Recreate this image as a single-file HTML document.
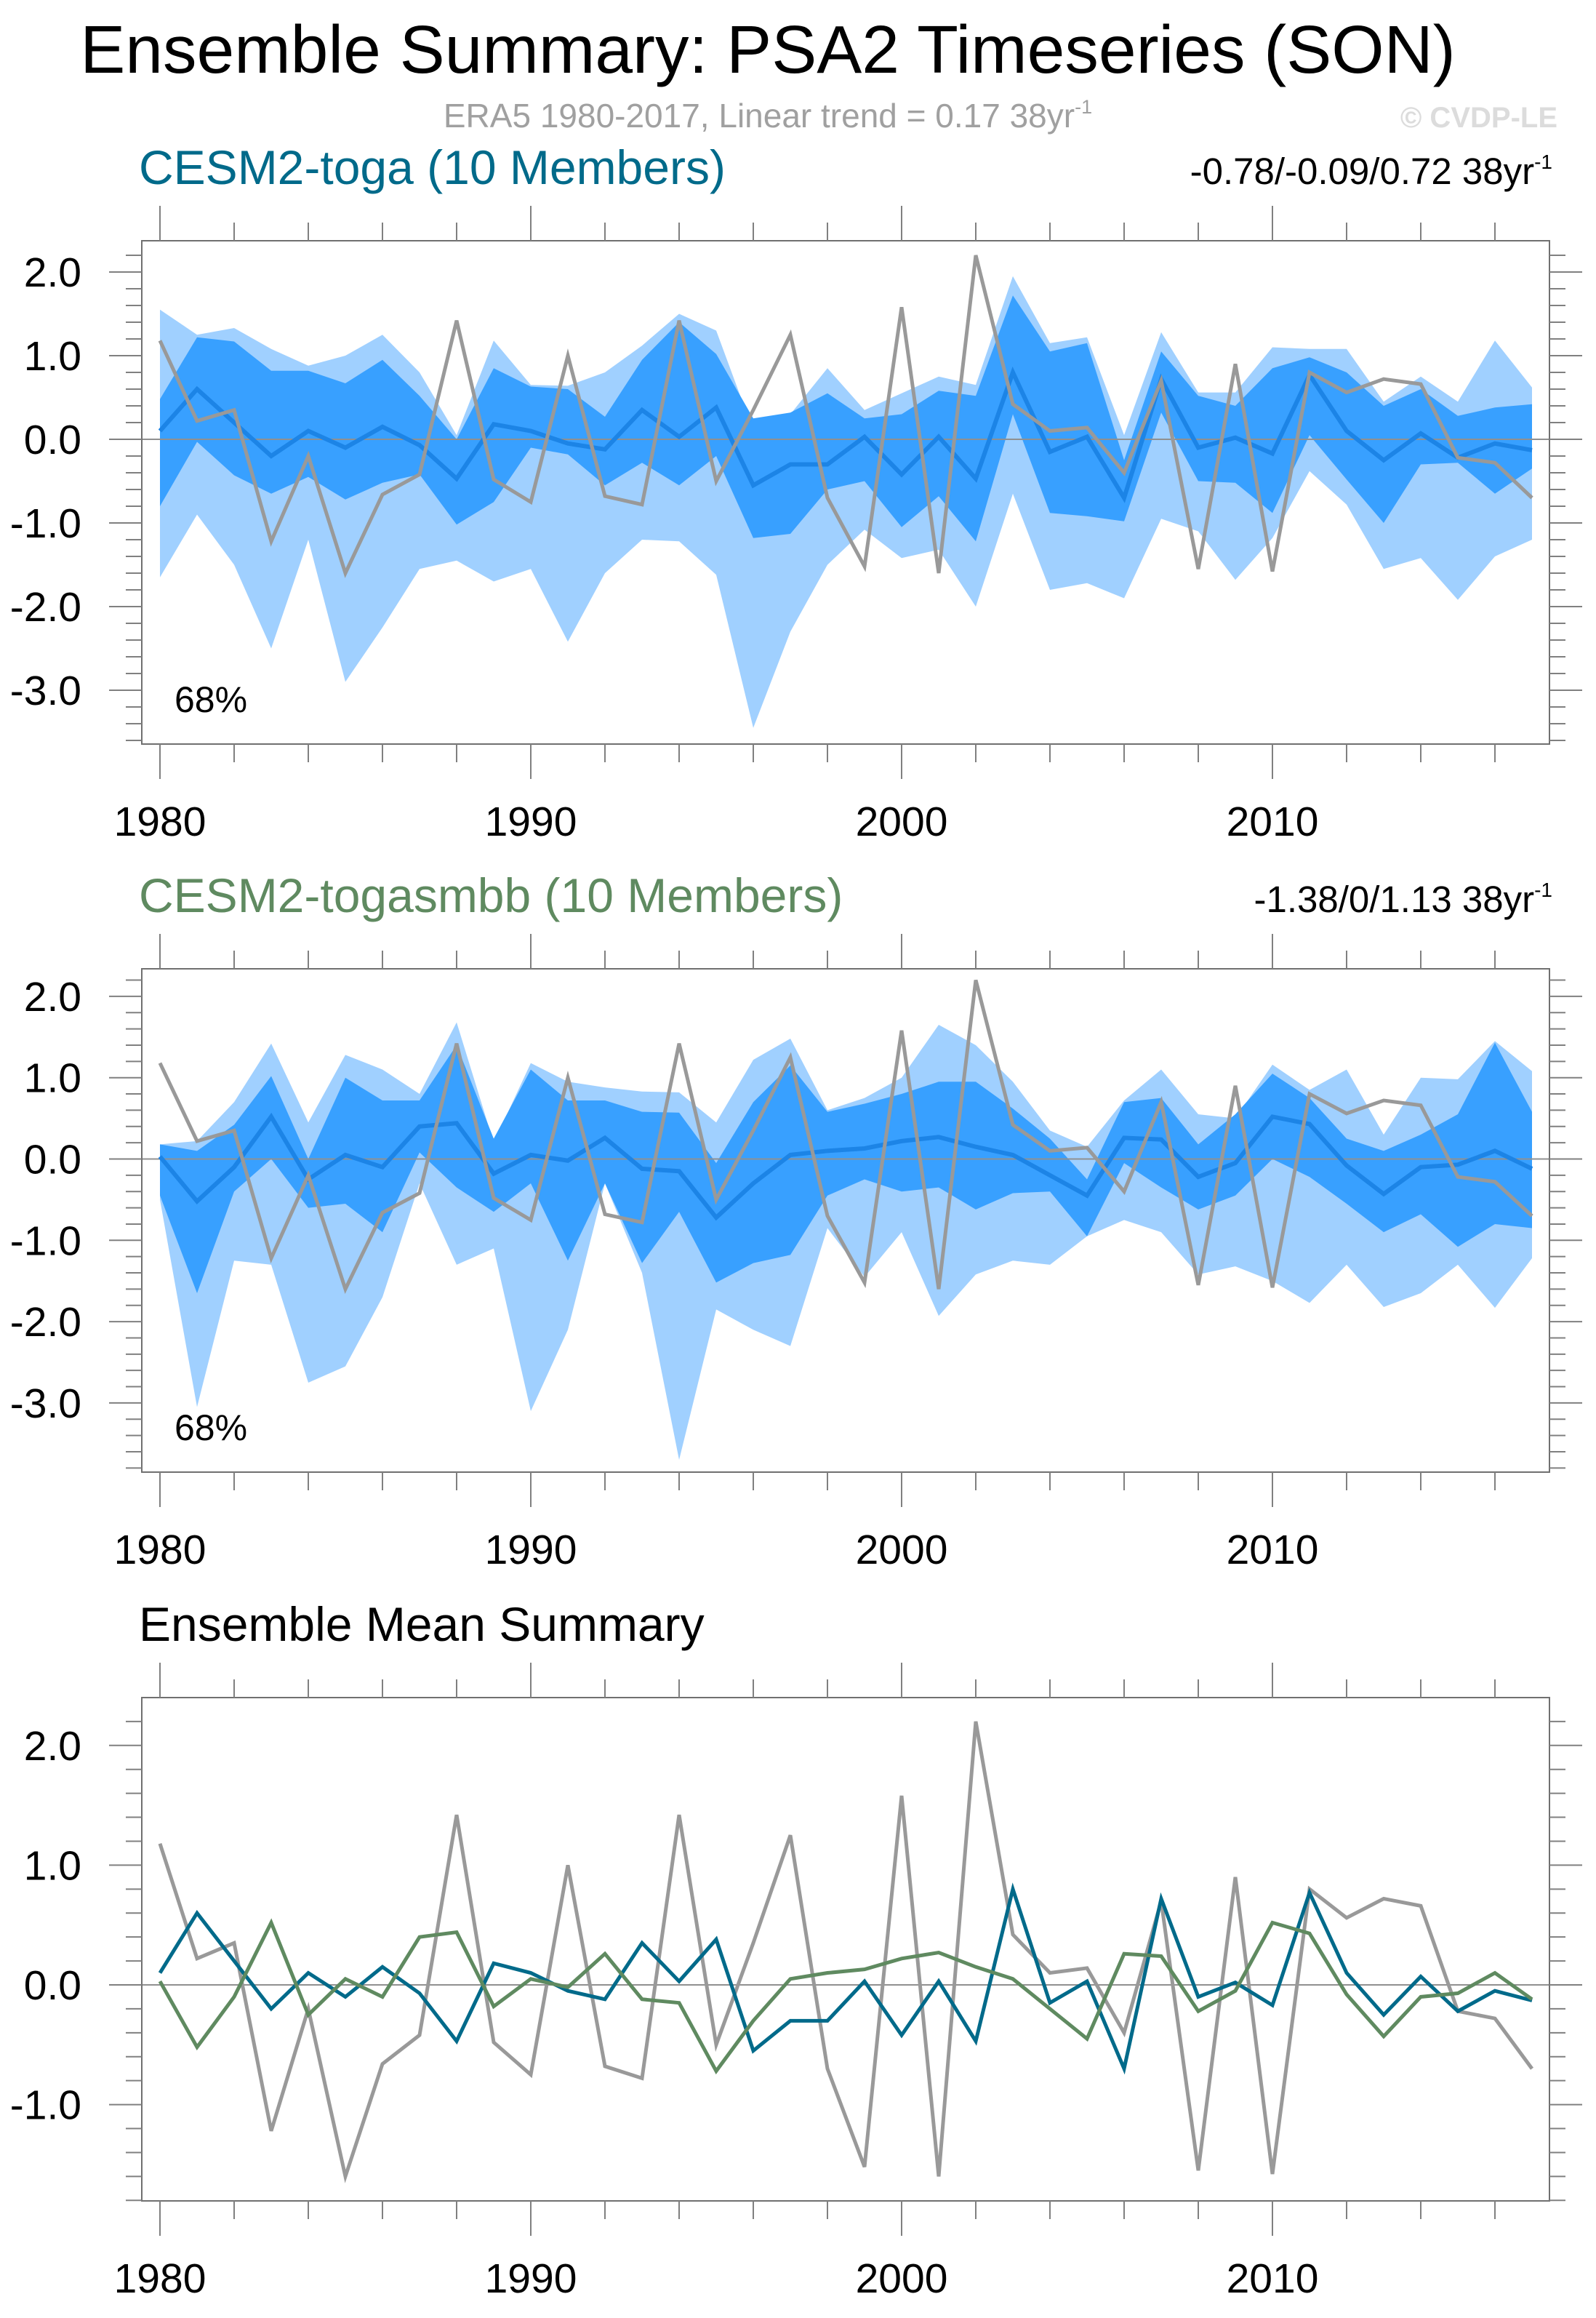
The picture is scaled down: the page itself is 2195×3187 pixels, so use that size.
<!DOCTYPE html>
<html><head><meta charset="utf-8"><style>
html,body{margin:0;padding:0;background:#fff}
svg{display:block}
text{font-family:"Liberation Sans",sans-serif}
</style></head><body>
<svg id="fig" width="2195" height="3187" viewBox="0 0 2195 3187" xmlns="http://www.w3.org/2000/svg">
<text x="1056" y="100" font-size="93" text-anchor="middle" fill="#000">Ensemble Summary: PSA2 Timeseries (SON)</text>
<text x="1056" y="175" font-size="46" text-anchor="middle" fill="#a0a0a0">ERA5 1980-2017, Linear trend = 0.17 38yr<tspan font-size="27" dy="-19">-1</tspan></text>
<text x="2142" y="175" font-size="40" font-weight="bold" text-anchor="end" fill="#dcdcdc">© CVDP-LE</text>
<g id="p1"></g>
<g id="p2"></g>
<g id="p3"></g>
</svg>
<script>
const years = [];
for (let y = 1980; y <= 2017; y++) years.push(y);
const era5 = [1.18,0.22,0.35,-1.22,-0.2,-1.6,-0.66,-0.42,1.42,-0.48,-0.75,1.0,-0.68,-0.78,1.42,-0.5,0.35,1.25,-0.7,-1.52,1.58,-1.6,2.2,0.42,0.1,0.14,-0.4,0.7,-1.55,0.9,-1.58,0.8,0.56,0.72,0.66,-0.22,-0.28,-0.7];
const togaMean = [0.1,0.6,0.2,-0.2,0.1,-0.1,0.15,-0.07,-0.47,0.18,0.1,-0.05,-0.12,0.35,0.03,0.38,-0.55,-0.3,-0.3,0.03,-0.42,0.03,-0.47,0.8,-0.15,0.03,-0.7,0.72,-0.1,0.02,-0.17,0.77,0.1,-0.25,0.07,-0.22,-0.05,-0.13];
const togaMax = [1.55,1.25,1.33,1.08,0.88,1.0,1.25,0.8,0.05,1.18,0.65,0.64,0.8,1.12,1.5,1.3,0.1,0.3,0.85,0.35,0.55,0.75,0.65,1.95,1.15,1.22,0.05,1.28,0.56,0.56,1.1,1.08,1.08,0.45,0.75,0.45,1.18,0.62];
const togaMin = [-1.65,-0.9,-1.5,-2.5,-1.2,-2.9,-2.25,-1.55,-1.45,-1.7,-1.55,-2.42,-1.6,-1.2,-1.22,-1.62,-3.45,-2.3,-1.5,-1.08,-1.42,-1.32,-2.0,-0.65,-1.8,-1.72,-1.9,-0.95,-1.1,-1.68,-1.18,-0.38,-0.78,-1.55,-1.42,-1.92,-1.4,-1.2];
const toga84 = [0.48,1.22,1.17,0.82,0.82,0.67,0.95,0.52,0.0,0.85,0.63,0.6,0.27,0.95,1.4,1.02,0.25,0.32,0.55,0.25,0.3,0.58,0.52,1.72,1.05,1.15,-0.25,1.05,0.52,0.4,0.85,0.98,0.8,0.4,0.6,0.28,0.38,0.42];
const toga16 = [-0.8,-0.03,-0.43,-0.65,-0.45,-0.72,-0.52,-0.42,-1.02,-0.75,-0.1,-0.18,-0.55,-0.28,-0.55,-0.2,-1.18,-1.13,-0.6,-0.5,-1.05,-0.68,-1.22,0.3,-0.88,-0.92,-0.98,0.32,-0.5,-0.52,-0.88,0.05,-0.48,-1.0,-0.3,-0.28,-0.65,-0.35];
const smbbMean = [0.03,-0.52,-0.1,0.52,-0.25,0.05,-0.1,0.4,0.44,-0.18,0.05,-0.02,0.26,-0.12,-0.15,-0.72,-0.3,0.05,0.1,0.13,0.22,0.27,0.15,0.05,-0.2,-0.45,0.26,0.24,-0.22,-0.05,0.52,0.43,-0.08,-0.43,-0.1,-0.07,0.1,-0.12];
const smbbMax = [0.18,0.22,0.7,1.42,0.45,1.28,1.1,0.8,1.68,0.2,1.18,0.95,0.88,0.83,0.82,0.45,1.22,1.48,0.6,0.75,1.0,1.65,1.4,0.95,0.35,0.15,0.72,1.1,0.55,0.5,1.16,0.85,1.1,0.3,1.0,0.98,1.45,1.08];
const smbbMin = [-0.5,-3.05,-1.25,-1.3,-2.75,-2.55,-1.7,-0.3,-1.3,-1.1,-3.1,-2.1,-0.3,-1.4,-3.7,-1.85,-2.1,-2.3,-0.85,-1.45,-0.9,-1.93,-1.42,-1.25,-1.3,-0.95,-0.75,-0.9,-1.42,-1.32,-1.5,-1.77,-1.3,-1.82,-1.65,-1.3,-1.83,-1.22];
const smbb84 = [0.18,0.1,0.42,1.02,0.0,1.0,0.72,0.72,1.4,0.25,1.1,0.72,0.72,0.58,0.57,-0.05,0.7,1.15,0.58,0.68,0.8,0.95,0.95,0.62,0.25,-0.25,0.7,0.75,0.18,0.55,1.05,0.75,0.25,0.1,0.3,0.55,1.43,0.58];
const smbb16 = [-0.45,-1.65,-0.4,0.0,-0.6,-0.55,-0.9,0.08,-0.35,-0.65,-0.3,-1.25,-0.3,-1.28,-0.65,-1.52,-1.28,-1.18,-0.45,-0.25,-0.4,-0.35,-0.62,-0.42,-0.4,-0.95,-0.05,-0.35,-0.62,-0.45,0.0,-0.22,-0.55,-0.9,-0.68,-1.08,-0.8,-0.85];
const yTicks1 = [2.0,1.0,0.0,-1.0,-2.0,-3.0];
const yTicks3 = [2.0,1.0,0.0,-1.0];
const xTicks = [1980,1990,2000,2010];

const NS = 'http://www.w3.org/2000/svg';
const L = 195, R = 2131, X0 = 220, XSTEP = 51.0;
function xs(year){ return X0 + (year - 1980) * XSTEP; }
function mk(tag, attrs, parent){
  const e = document.createElementNS(NS, tag);
  for (const k in attrs) e.setAttribute(k, attrs[k]);
  parent.appendChild(e); return e;
}
function drawPanel(g, cfg){
  const T = cfg.top, B = cfg.top + 692;
  const ys = v => cfg.zeroY - v * cfg.unit;
  function band(hi, lo, color, name){
    let d = '';
    hi.forEach((v,i)=>{ d += (i?'L':'M') + xs(years[i]) + ',' + ys(v); });
    for (let i = lo.length-1; i >= 0; i--) d += 'L' + xs(years[i]) + ',' + ys(lo[i]);
    const p = mk('path', {d: d + 'Z', fill: color}, g);
    
    
  }
  if (cfg.bands) {
    band(cfg.bands[0], cfg.bands[1], '#a0d0ff', 'min-max-range-band');
    band(cfg.bands[2], cfg.bands[3], '#38a0ff', 'percentile-68-band');
  }
  const z = mk('line', {x1:L, x2:R, y1:ys(0), y2:ys(0), stroke:'#909090', 'stroke-width':2}, g);
  
  
  cfg.lines.forEach(s => {
    const pts = s.vals.map((v,i)=> xs(years[i]) + ',' + ys(v)).join(' ');
    const pl = mk('polyline', {points: pts, fill:'none', stroke:s.color, 'stroke-width':s.w, 'stroke-linejoin':'miter'}, g);
    
    
  });
  const fr = mk('rect', {x:L, y:T, width:R-L, height:B-T, fill:'none', stroke:'#707070', 'stroke-width':2}, g);
  
  
  const tg = mk('g', {stroke:'#808080', 'stroke-width':2}, g);
  
  
  years.forEach(yr => {
    if (yr % 2 !== 0) return;
    const x = xs(yr); const len = (yr % 10 === 0) ? 48 : 25;
    mk('line', {x1:x, x2:x, y1:B, y2:B+len}, tg);
    mk('line', {x1:x, x2:x, y1:T, y2:T-len}, tg);
  });
  const vmin = (cfg.zeroY - B)/cfg.unit, vmax = (cfg.zeroY - T)/cfg.unit;
  for (let k = Math.ceil(vmin/0.2); k <= Math.floor(vmax/0.2); k++) {
    const v = k*0.2, y = ys(v); const len = (k % 5 === 0) ? 45 : 22;
    mk('line', {x1:L, x2:L-len, y1:y, y2:y}, tg);
    mk('line', {x1:R, x2:R+len, y1:y, y2:y}, tg);
  }
  xTicks.forEach(yr => {
    const t = mk('text', {x:xs(yr), y:B+126, 'font-size':57, 'text-anchor':'middle', fill:'#000'}, g);
    t.textContent = String(yr);
    
    
  });
  cfg.yTicks.forEach(v => {
    const t = mk('text', {x:112, y:ys(v)+20, 'font-size':57, 'text-anchor':'end', fill:'#000'}, g);
    t.textContent = v.toFixed(1);
    
    
  });
  const tt = mk('text', {x:191, y:T-78, 'font-size':66, fill:cfg.titleColor}, g);
  tt.textContent = cfg.title;
  
  
  if (cfg.trend) {
    const tr = mk('text', {x:2135, y:T-78, 'font-size':51, 'text-anchor':'end', fill:'#000'}, g);
    tr.textContent = cfg.trend + ' 38yr';
    const sp = mk('tspan', {'font-size':28, dy:-21}, tr); sp.textContent = '-1';
    
    
  }
  if (cfg.pct) {
    const p = mk('text', {x:240, y:B-44, 'font-size':50, fill:'#000'}, g);
    p.textContent = '68%';
    
    
  }
}
drawPanel(document.getElementById('p1'), {top:331, zeroY:604, unit:115, yTicks:yTicks1,
  bands:[togaMax,togaMin,toga84,toga16], title:'CESM2-toga (10 Members)', titleColor:'#006a8a',
  trend:'-0.78/-0.09/0.72', pct:true,
  lines:[{vals:togaMean,color:'#1c84e6',w:6,name:'toga-ensemble-mean-line'},{vals:era5,color:'#999999',w:5,name:'era5-line'}]});
drawPanel(document.getElementById('p2'), {top:1332, zeroY:1593.5, unit:111.8, yTicks:yTicks1,
  bands:[smbbMax,smbbMin,smbb84,smbb16], title:'CESM2-togasmbb (10 Members)', titleColor:'#5f8a60',
  trend:'-1.38/0/1.13', pct:true,
  lines:[{vals:smbbMean,color:'#1c84e6',w:6,name:'togasmbb-ensemble-mean-line'},{vals:era5,color:'#999999',w:5,name:'era5-line'}]});
drawPanel(document.getElementById('p3'), {top:2334, zeroY:2729, unit:164.6, yTicks:yTicks3,
  bands:null, title:'Ensemble Mean Summary', titleColor:'#000', trend:null, pct:false,
  lines:[{vals:era5,color:'#999999',w:5,name:'era5-line'},{vals:togaMean,color:'#006a8a',w:5,name:'toga-mean-line'},{vals:smbbMean,color:'#5f8a60',w:5,name:'togasmbb-mean-line'}]});
</script>
</body></html>
